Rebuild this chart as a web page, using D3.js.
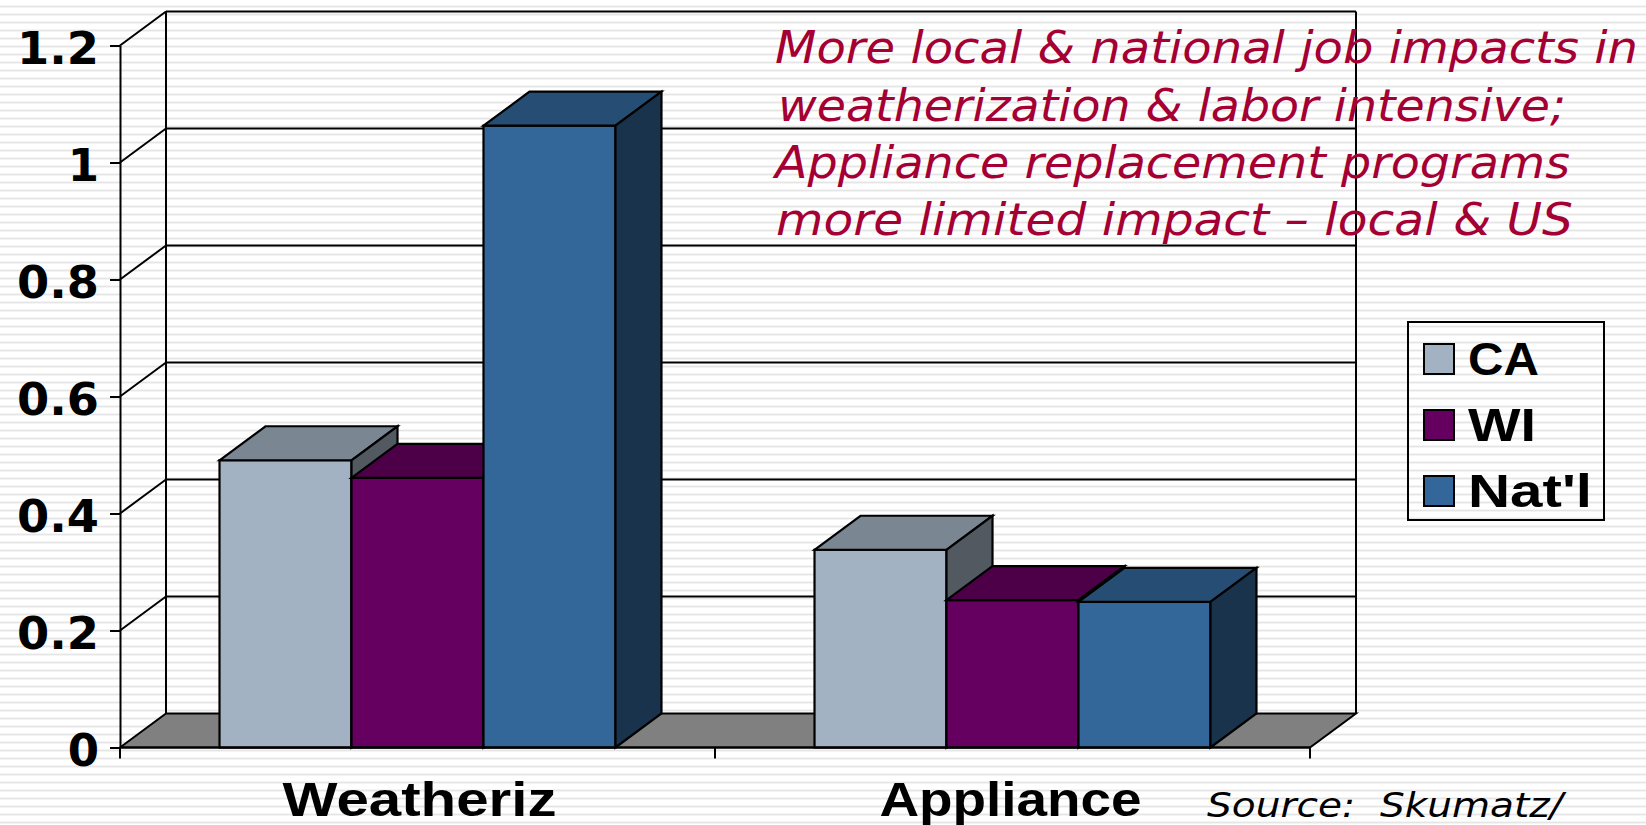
<!DOCTYPE html>
<html>
<head>
<meta charset="utf-8">
<script src="https://cdn.jsdelivr.net/npm/d3@7"></script>
<style>
  html, body { margin: 0; padding: 0; background: #fff; overflow: hidden; }
  svg { display: block; }
</style>
</head>
<body>
<svg id="chart"></svg>
<script>
// data
const categories = ["Weatheriz", "Appliance"];
const seriesNames = ["CA", "WI", "Nat'l"];
const caValues = [0.491, 0.338];
const wiValues = [0.461, 0.252];
const natValues = [1.063, 0.249];
const yTicks = [0, 0.2, 0.4, 0.6, 0.8, 1, 1.2];
const seriesColors = ["#a3b2c2", "#660060", "#336699"];
const noteLines = [
    "More local & national job impacts in",
    "weatherization & labor intensive;",
    "Appliance replacement programs",
    "more limited impact \u2013 local & US"
];
const sourceText = "Source:\u00a0\u00a0Skumatz/";

const width = 1646;
const height = 825;
const depthX = 46;   // how far the 3D back wall is shifted
const depthY = -34;

const svg = d3.select("#chart")
    .attr("width", width)
    .attr("height", height);

// striped slide background
const stripes = svg.append("defs").append("pattern")
    .attr("id", "stripes")
    .attr("patternUnits", "userSpaceOnUse")
    .attr("width", 8)
    .attr("height", 8);
stripes.append("rect").attr("width", 8).attr("height", 8).attr("fill", "#ffffff");
stripes.append("rect").attr("y", 5).attr("width", 8).attr("height", 1).attr("fill", "#f4f4f4");
stripes.append("rect").attr("y", 6).attr("width", 8).attr("height", 1).attr("fill", "#e5e5e5");
stripes.append("rect").attr("y", 7).attr("width", 8).attr("height", 1).attr("fill", "#f4f4f4");

svg.append("rect")
    .attr("width", width)
    .attr("height", height)
    .attr("fill", "url(#stripes)");

const x0 = d3.scaleBand()
    .domain(categories)
    .range([120, 1310]);

const x1 = d3.scaleBand()
    .domain(seriesNames)
    .range([0, x0.bandwidth()])
    .paddingInner(0)
    .paddingOuter(0.754);

const y = d3.scaleLinear()
    .domain([0, 1.2])
    .range([747.5, 45.5]);

const xLeft = x0.range()[0];
const xRight = x0.range()[1];

const line = (g, x1p, y1p, x2p, y2p) => g.append("line")
    .attr("x1", x1p).attr("y1", y1p)
    .attr("x2", x2p).attr("y2", y2p)
    .attr("stroke", "#000")
    .attr("stroke-width", 2);

// back walls and gridlines
const walls = svg.append("g");
yTicks.forEach(t => {
    if (t > 0) {
        line(walls, xLeft, y(t), xLeft + depthX, y(t) + depthY);
        line(walls, xLeft + depthX, y(t) + depthY, xRight + depthX, y(t) + depthY);
    }
});
line(walls, xLeft + depthX, y(1.2) + depthY, xLeft + depthX, y(0) + depthY);
line(walls, xRight + depthX, y(1.2) + depthY, xRight + depthX, y(0) + depthY);

// floor
const pts = a => a.map(p => p.join(",")).join(" ");
walls.append("polygon")
    .attr("points", pts([
        [xLeft, y(0)],
        [xLeft + depthX, y(0) + depthY],
        [xRight + depthX, y(0) + depthY],
        [xRight, y(0)]
    ]))
    .attr("fill", "#808080")
    .attr("stroke", "#000")
    .attr("stroke-width", 2);

// y axis
const yAxis = svg.append("g")
    .attr("transform", `translate(${xLeft}, 0)`)
    .call(d3.axisLeft(y)
        .tickValues(yTicks)
        .tickFormat(d => String(d))
        .tickSize(10)
        .tickSizeOuter(0)
        .tickPadding(11));
yAxis.select(".domain").attr("stroke", "#000").attr("stroke-width", 2);
yAxis.selectAll(".tick line").attr("stroke", "#000").attr("stroke-width", 2);
yAxis.selectAll(".tick text")
    .attr("dy", null)
    .attr("y", 18)
    .attr("fill", "#000")
    .attr("textLength", d => String(d).length > 1 ? 82 : null)
    .attr("lengthAdjust", "spacingAndGlyphs")
    .style("font-family", "'DejaVu Sans'")
    .style("font-weight", "bold")
    .style("font-size", "45px");

// category ticks sit on the band edges, so drawn by hand from the scale
const xTickG = svg.append("g");
categories.concat([null]).forEach(c => {
    const px = c === null ? xRight : x0(c);
    line(xTickG, px, y(0), px, y(0) + 11);
});

// 3D bars, left to right so each one overlaps the previous
const shade = (c, k) => {
    const r = d3.rgb(c);
    return d3.rgb(r.r * k, r.g * k, r.b * k).formatHex();
};

const valuesBySeries = [caValues, wiValues, natValues];
const bars = [];
categories.forEach((c, ci) => {
    seriesNames.forEach((s, si) => {
        bars.push({ category: c, series: s, value: valuesBySeries[si][ci], color: seriesColors[si] });
    });
});

const barG = svg.selectAll(".bar")
    .data(bars)
    .enter()
    .append("g")
    .attr("class", "bar")
    .attr("stroke", "#000")
    .attr("stroke-width", 2.2)
    .attr("stroke-linejoin", "miter");

const left = d => x0(d.category) + x1(d.series);
const right = d => left(d) + x1.bandwidth();

barG.append("rect")
    .attr("x", left)
    .attr("y", d => y(d.value))
    .attr("width", x1.bandwidth())
    .attr("height", d => y(0) - y(d.value))
    .attr("fill", d => d.color);

barG.append("polygon")
    .attr("points", d => pts([
        [left(d), y(d.value)],
        [left(d) + depthX, y(d.value) + depthY],
        [right(d) + depthX, y(d.value) + depthY],
        [right(d), y(d.value)]
    ]))
    .attr("fill", d => shade(d.color, 0.75));

barG.append("polygon")
    .attr("points", d => pts([
        [right(d), y(d.value)],
        [right(d) + depthX, y(d.value) + depthY],
        [right(d) + depthX, y(0) + depthY],
        [right(d), y(0)]
    ]))
    .attr("fill", d => shade(d.color, 0.5));

// front edge of the axis on top of the bars
line(svg, xLeft, y(0), xRight, y(0));

// category labels
const catWidths = [274, 262];
svg.selectAll(".cat-label")
    .data(categories)
    .enter()
    .append("text")
    .attr("class", "cat-label")
    .attr("x", (d, i) => x0(d) + x0.bandwidth() / 2 + (i === 0 ? 2 : -2))
    .attr("y", 816)
    .attr("text-anchor", "middle")
    .attr("textLength", (d, i) => catWidths[i])
    .attr("lengthAdjust", "spacingAndGlyphs")
    .style("font-family", "'Liberation Sans'")
    .style("font-weight", "bold")
    .style("font-size", "48px")
    .text(d => d);

// legend
const legend = svg.append("g");
legend.append("rect")
    .attr("x", 1408)
    .attr("y", 322)
    .attr("width", 196)
    .attr("height", 198)
    .attr("fill", "none")
    .attr("stroke", "#000")
    .attr("stroke-width", 2);

const legendRow = d3.scalePoint()
    .domain(seriesNames)
    .range([344, 476]);

legend.selectAll(".swatch")
    .data(seriesNames)
    .enter()
    .append("rect")
    .attr("class", "swatch")
    .attr("x", 1424)
    .attr("y", d => legendRow(d))
    .attr("width", 30)
    .attr("height", 30)
    .attr("fill", (d, i) => seriesColors[i])
    .attr("stroke", "#000")
    .attr("stroke-width", 2);

const legendWidths = [71, 68, 124];
legend.selectAll(".legend-label")
    .data(seriesNames)
    .enter()
    .append("text")
    .attr("class", "legend-label")
    .attr("x", 1468)
    .attr("y", d => legendRow(d) + 31)
    .attr("textLength", (d, i) => legendWidths[i])
    .attr("lengthAdjust", "spacingAndGlyphs")
    .style("font-family", "'Liberation Sans'")
    .style("font-weight", "bold")
    .style("font-size", "46px")
    .text(d => d);

// red note over the chart
const noteX = [775, 778, 775, 776];
const noteEnd = [1638, 1566, 1570, 1573];
const noteBase = [63, 121, 178, 235];
svg.selectAll(".note")
    .data(noteLines)
    .enter()
    .append("text")
    .attr("class", "note")
    .attr("x", (d, i) => noteX[i])
    .attr("y", (d, i) => noteBase[i])
    .attr("textLength", (d, i) => noteEnd[i] - noteX[i])
    .attr("lengthAdjust", "spacingAndGlyphs")
    .attr("fill", "#a50034")
    .style("font-family", "'DejaVu Sans'")
    .style("font-style", "italic")
    .style("font-size", "45px")
    .text(d => d);

svg.append("text")
    .attr("x", 1207)
    .attr("y", 817)
    .attr("textLength", 356)
    .attr("lengthAdjust", "spacingAndGlyphs")
    .attr("fill", "#000")
    .style("font-family", "'DejaVu Sans'")
    .style("font-style", "italic")
    .style("font-size", "34px")
    .text(sourceText);
</script>
</body>
</html>
